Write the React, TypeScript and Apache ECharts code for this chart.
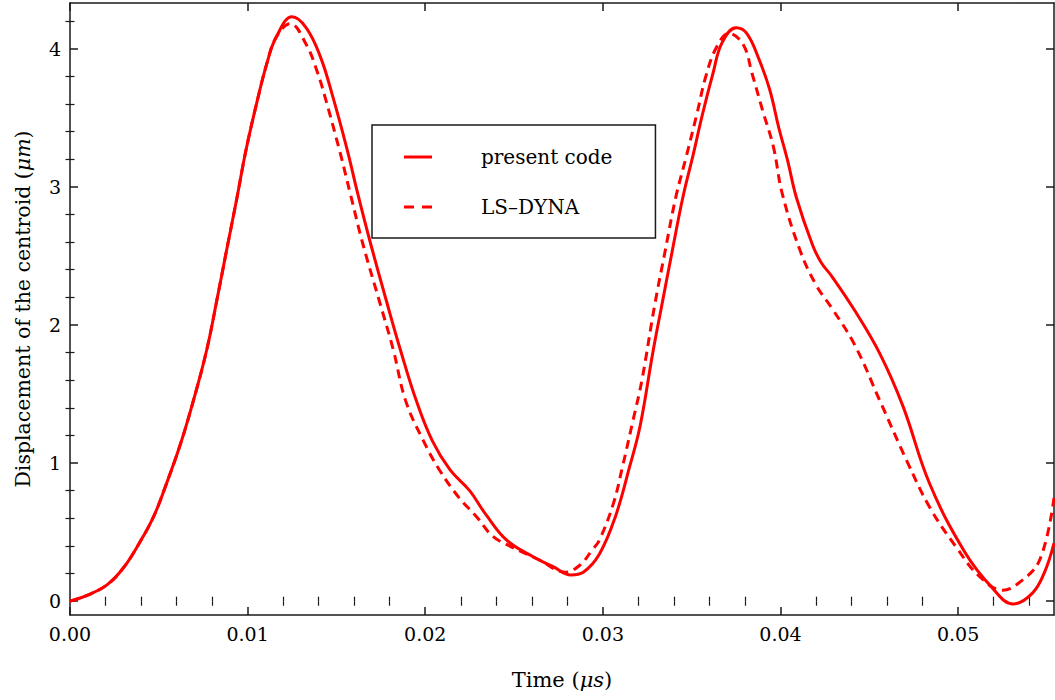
import React, { useEffect, useRef } from "react";
import * as echarts from "echarts";

// Time (μs) and displacement (μm) of the centroid — "present code" (solid)
const timeSolid = [
  0, 0.0011, 0.0021, 0.003, 0.0039, 0.0047, 0.0054, 0.0062, 0.0069, 0.0077,
  0.0083, 0.0088, 0.0094, 0.0099, 0.0105, 0.0111, 0.0116, 0.0125, 0.0133, 0.0141,
  0.0148, 0.0156, 0.0162, 0.0169, 0.0178, 0.0186, 0.0195, 0.0204, 0.0214, 0.0225,
  0.0234, 0.0246, 0.0261, 0.0272, 0.0282, 0.0289, 0.0298, 0.0307, 0.0315, 0.0321,
  0.0328, 0.0333, 0.0339, 0.0345, 0.0351, 0.0356, 0.0362, 0.0367, 0.0375, 0.0381,
  0.0388, 0.0394, 0.0399, 0.0404, 0.0409, 0.0418, 0.0423, 0.0429, 0.0442, 0.0456, 0.0469,
  0.0484, 0.0504, 0.0519, 0.0531, 0.0542, 0.0549, 0.0554,
];
const dispSolid = [
  0, 0.05, 0.12, 0.24, 0.42, 0.61, 0.84, 1.13, 1.43, 1.82,
  2.2, 2.53, 2.92, 3.26, 3.6, 3.9, 4.08, 4.23, 4.15, 3.94,
  3.65, 3.27, 2.95, 2.6, 2.18, 1.82, 1.45, 1.16, 0.95, 0.8,
  0.63, 0.44, 0.32, 0.25, 0.19, 0.21, 0.34, 0.61, 0.97, 1.27,
  1.79, 2.13, 2.53, 2.92, 3.24, 3.52, 3.82, 4.04, 4.15, 4.11,
  3.92, 3.7, 3.43, 3.19, 2.92, 2.58, 2.45, 2.35, 2.1, 1.79, 1.41,
  0.85, 0.35, 0.1, -0.02, 0.06, 0.22, 0.42,
];

// "LS–DYNA" (dashed)
const timeDashed = [
  0, 0.0011, 0.0021, 0.003, 0.0039, 0.0047, 0.0054, 0.0062, 0.0069, 0.0077,
  0.0083, 0.0088, 0.0094, 0.0099, 0.0105, 0.0111, 0.0116, 0.0124, 0.0133, 0.0139,
  0.0144, 0.0152, 0.0158, 0.0165, 0.0174, 0.0182, 0.0189, 0.0199, 0.0208, 0.0219,
  0.0229, 0.0238, 0.0249, 0.0264, 0.0279, 0.0287, 0.0294, 0.0298, 0.0306, 0.0311,
  0.0317, 0.0322, 0.0329, 0.0335, 0.0341, 0.0347, 0.0353, 0.0358, 0.0364, 0.0371,
  0.0379, 0.0384, 0.039, 0.0396, 0.0401, 0.0411, 0.042, 0.0429, 0.0442, 0.0456,
  0.0471, 0.0484, 0.0499, 0.0512, 0.0525, 0.0534, 0.0546, 0.0554,
];
const dispDashed = [
  0, 0.05, 0.12, 0.24, 0.42, 0.61, 0.84, 1.13, 1.43, 1.82,
  2.2, 2.53, 2.92, 3.26, 3.6, 3.9, 4.08, 4.18, 4.03, 3.84,
  3.63, 3.25, 2.94, 2.58, 2.18, 1.82, 1.45, 1.16, 0.95, 0.75,
  0.61, 0.47, 0.39, 0.3, 0.21, 0.26, 0.37, 0.44, 0.71, 0.97,
  1.31, 1.6, 2.13, 2.53, 2.92, 3.22, 3.53, 3.8, 4.01, 4.11,
  4.03, 3.82, 3.55, 3.29, 2.95, 2.54, 2.29, 2.12, 1.85, 1.45,
  1.02, 0.68, 0.39, 0.18, 0.08, 0.13, 0.3, 0.75,
];

const seriesNames = ["present code", "LS\u2013DYNA"];

const xMajorTicks = [0, 0.01, 0.02, 0.03, 0.04, 0.05];
const xMinorTicks = [
  0.002, 0.004, 0.006, 0.008, 0.012, 0.014, 0.016, 0.018, 0.022, 0.024, 0.026, 0.028,
  0.032, 0.034, 0.036, 0.038, 0.042, 0.044, 0.046, 0.048, 0.052, 0.054,
];
const yMajorTicks = [0, 1, 2, 3, 4];
const yMinorTicks = [
  0.2, 0.4, 0.6, 0.8, 1.2, 1.4, 1.6, 1.8, 2.2, 2.4, 2.6, 2.8, 3.2, 3.4, 3.6, 3.8, 4.2,
];

const X_MIN = 0;
const X_MAX = 0.0554;
const Y_MIN = -0.1;
const Y_MAX = 4.33;

const FONT = "DejaVu Serif";
const AXIS_COLOR = "#1a1a1a";
const RED = "#ff0000";

export default function App() {
  const ref = useRef<HTMLDivElement>(null);

  useEffect(() => {
    if (!ref.current) return;
    const chart = echarts.init(ref.current, undefined, { renderer: "svg" });

    const axisLine = { show: true, onZero: false, lineStyle: { color: AXIS_COLOR, width: 1.5 } };
    const noLine = { show: false };
    const majorTick = (vals: number[]) => ({
      show: true,
      inside: true,
      length: 8,
      customValues: vals,
      lineStyle: { color: AXIS_COLOR, width: 1.5 },
    });
    const minorTick = (vals: number[]) => ({
      show: true,
      inside: true,
      length: 4.5,
      customValues: vals,
      lineStyle: { color: AXIS_COLOR, width: 1.2 },
    });
    const noLabel = { show: false };

    const xBase = { type: "value", min: X_MIN, max: X_MAX, splitLine: { show: false } };
    const yBase = { type: "value", min: Y_MIN, max: Y_MAX, splitLine: { show: false } };

    const option: any = {
      animation: false,
      backgroundColor: "#ffffff",
      grid: { left: 70, right: 1, top: 3, bottom: 85, containLabel: false },
      legend: {
        orient: "vertical",
        left: 372,
        top: 125,
        padding: [22, 43, 21, 32],
        itemGap: 30,
        itemWidth: 28,
        itemHeight: 14,
        borderColor: AXIS_COLOR,
        borderWidth: 1.5,
        backgroundColor: "#ffffff",
        itemStyle: { color: RED, borderWidth: 0 },
        lineStyle: { width: 0 },
        data: [
          { name: seriesNames[0], icon: "path://M0,0h28v3h-28z" },
          { name: seriesNames[1], icon: "path://M0,0h10v3h-10zM18,0h10v3h-10z" },
        ],
        textStyle: {
          fontFamily: FONT,
          fontSize: 20,
          color: "#000",
          lineHeight: 20,
          padding: [0, 0, 0, 44],
        },
      },
      xAxis: [
        {
          ...xBase,
          position: "bottom",
          axisLine,
          axisTick: majorTick(xMajorTicks),
          axisLabel: {
            show: true,
            customValues: xMajorTicks,
            formatter: (v: number) => v.toFixed(2),
            fontFamily: FONT,
            fontSize: 19,
            color: "#000",
            margin: 9,
          },
          name: "Time ({i|\u03bcs})",
          nameLocation: "middle",
          nameGap: 54,
          nameTextStyle: {
            fontFamily: FONT,
            fontSize: 21,
            color: "#000",
            verticalAlign: "top",
            rich: { i: { fontFamily: FONT, fontSize: 21, fontStyle: "italic", color: "#000" } },
          },
        },
        { ...xBase, position: "bottom", axisLine: noLine, axisTick: minorTick(xMinorTicks), axisLabel: noLabel },
        { ...xBase, position: "top", axisLine, axisTick: majorTick(xMajorTicks), axisLabel: noLabel },
        { ...xBase, position: "top", axisLine: noLine, axisTick: minorTick(xMinorTicks), axisLabel: noLabel },
      ],
      yAxis: [
        {
          ...yBase,
          position: "left",
          axisLine,
          axisTick: majorTick(yMajorTicks),
          axisLabel: {
            show: true,
            customValues: yMajorTicks,
            formatter: (v: number) => String(v),
            fontFamily: FONT,
            fontSize: 19,
            color: "#000",
            margin: 9,
          },
          name: "Displacement of the centroid ({i|\u03bcm})",
          nameLocation: "middle",
          nameGap: 37,
          nameTextStyle: {
            fontFamily: FONT,
            fontSize: 20.5,
            color: "#000",
            rich: { i: { fontFamily: FONT, fontSize: 20.5, fontStyle: "italic", color: "#000" } },
          },
        },
        { ...yBase, position: "left", axisLine: noLine, axisTick: minorTick(yMinorTicks), axisLabel: noLabel },
        { ...yBase, position: "right", axisLine, axisTick: majorTick(yMajorTicks), axisLabel: noLabel },
        { ...yBase, position: "right", axisLine: noLine, axisTick: minorTick(yMinorTicks), axisLabel: noLabel },
      ],
      series: [
        {
          name: seriesNames[0],
          type: "line",
          xAxisIndex: 0,
          yAxisIndex: 0,
          smooth: 0.4,
          showSymbol: false,
          symbol: "none",
          clip: true,
          lineStyle: { color: RED, width: 3 },
          itemStyle: { color: RED },
          data: timeSolid.map((t, i) => [t, dispSolid[i]]),
          z: 3,
        },
        {
          name: seriesNames[1],
          type: "line",
          xAxisIndex: 0,
          yAxisIndex: 0,
          smooth: 0.4,
          showSymbol: false,
          symbol: "none",
          clip: true,
          lineStyle: { color: RED, width: 3, type: [9, 6] },
          itemStyle: { color: RED },
          data: timeDashed.map((t, i) => [t, dispDashed[i]]),
          z: 2,
        },
      ],
    };

    chart.setOption(option);
    return () => chart.dispose();
  }, []);

  return (
    <div
      ref={ref}
      style={{ position: "absolute", left: 0, top: 0, width: 1055, height: 700, background: "#fff" }}
    />
  );
}
